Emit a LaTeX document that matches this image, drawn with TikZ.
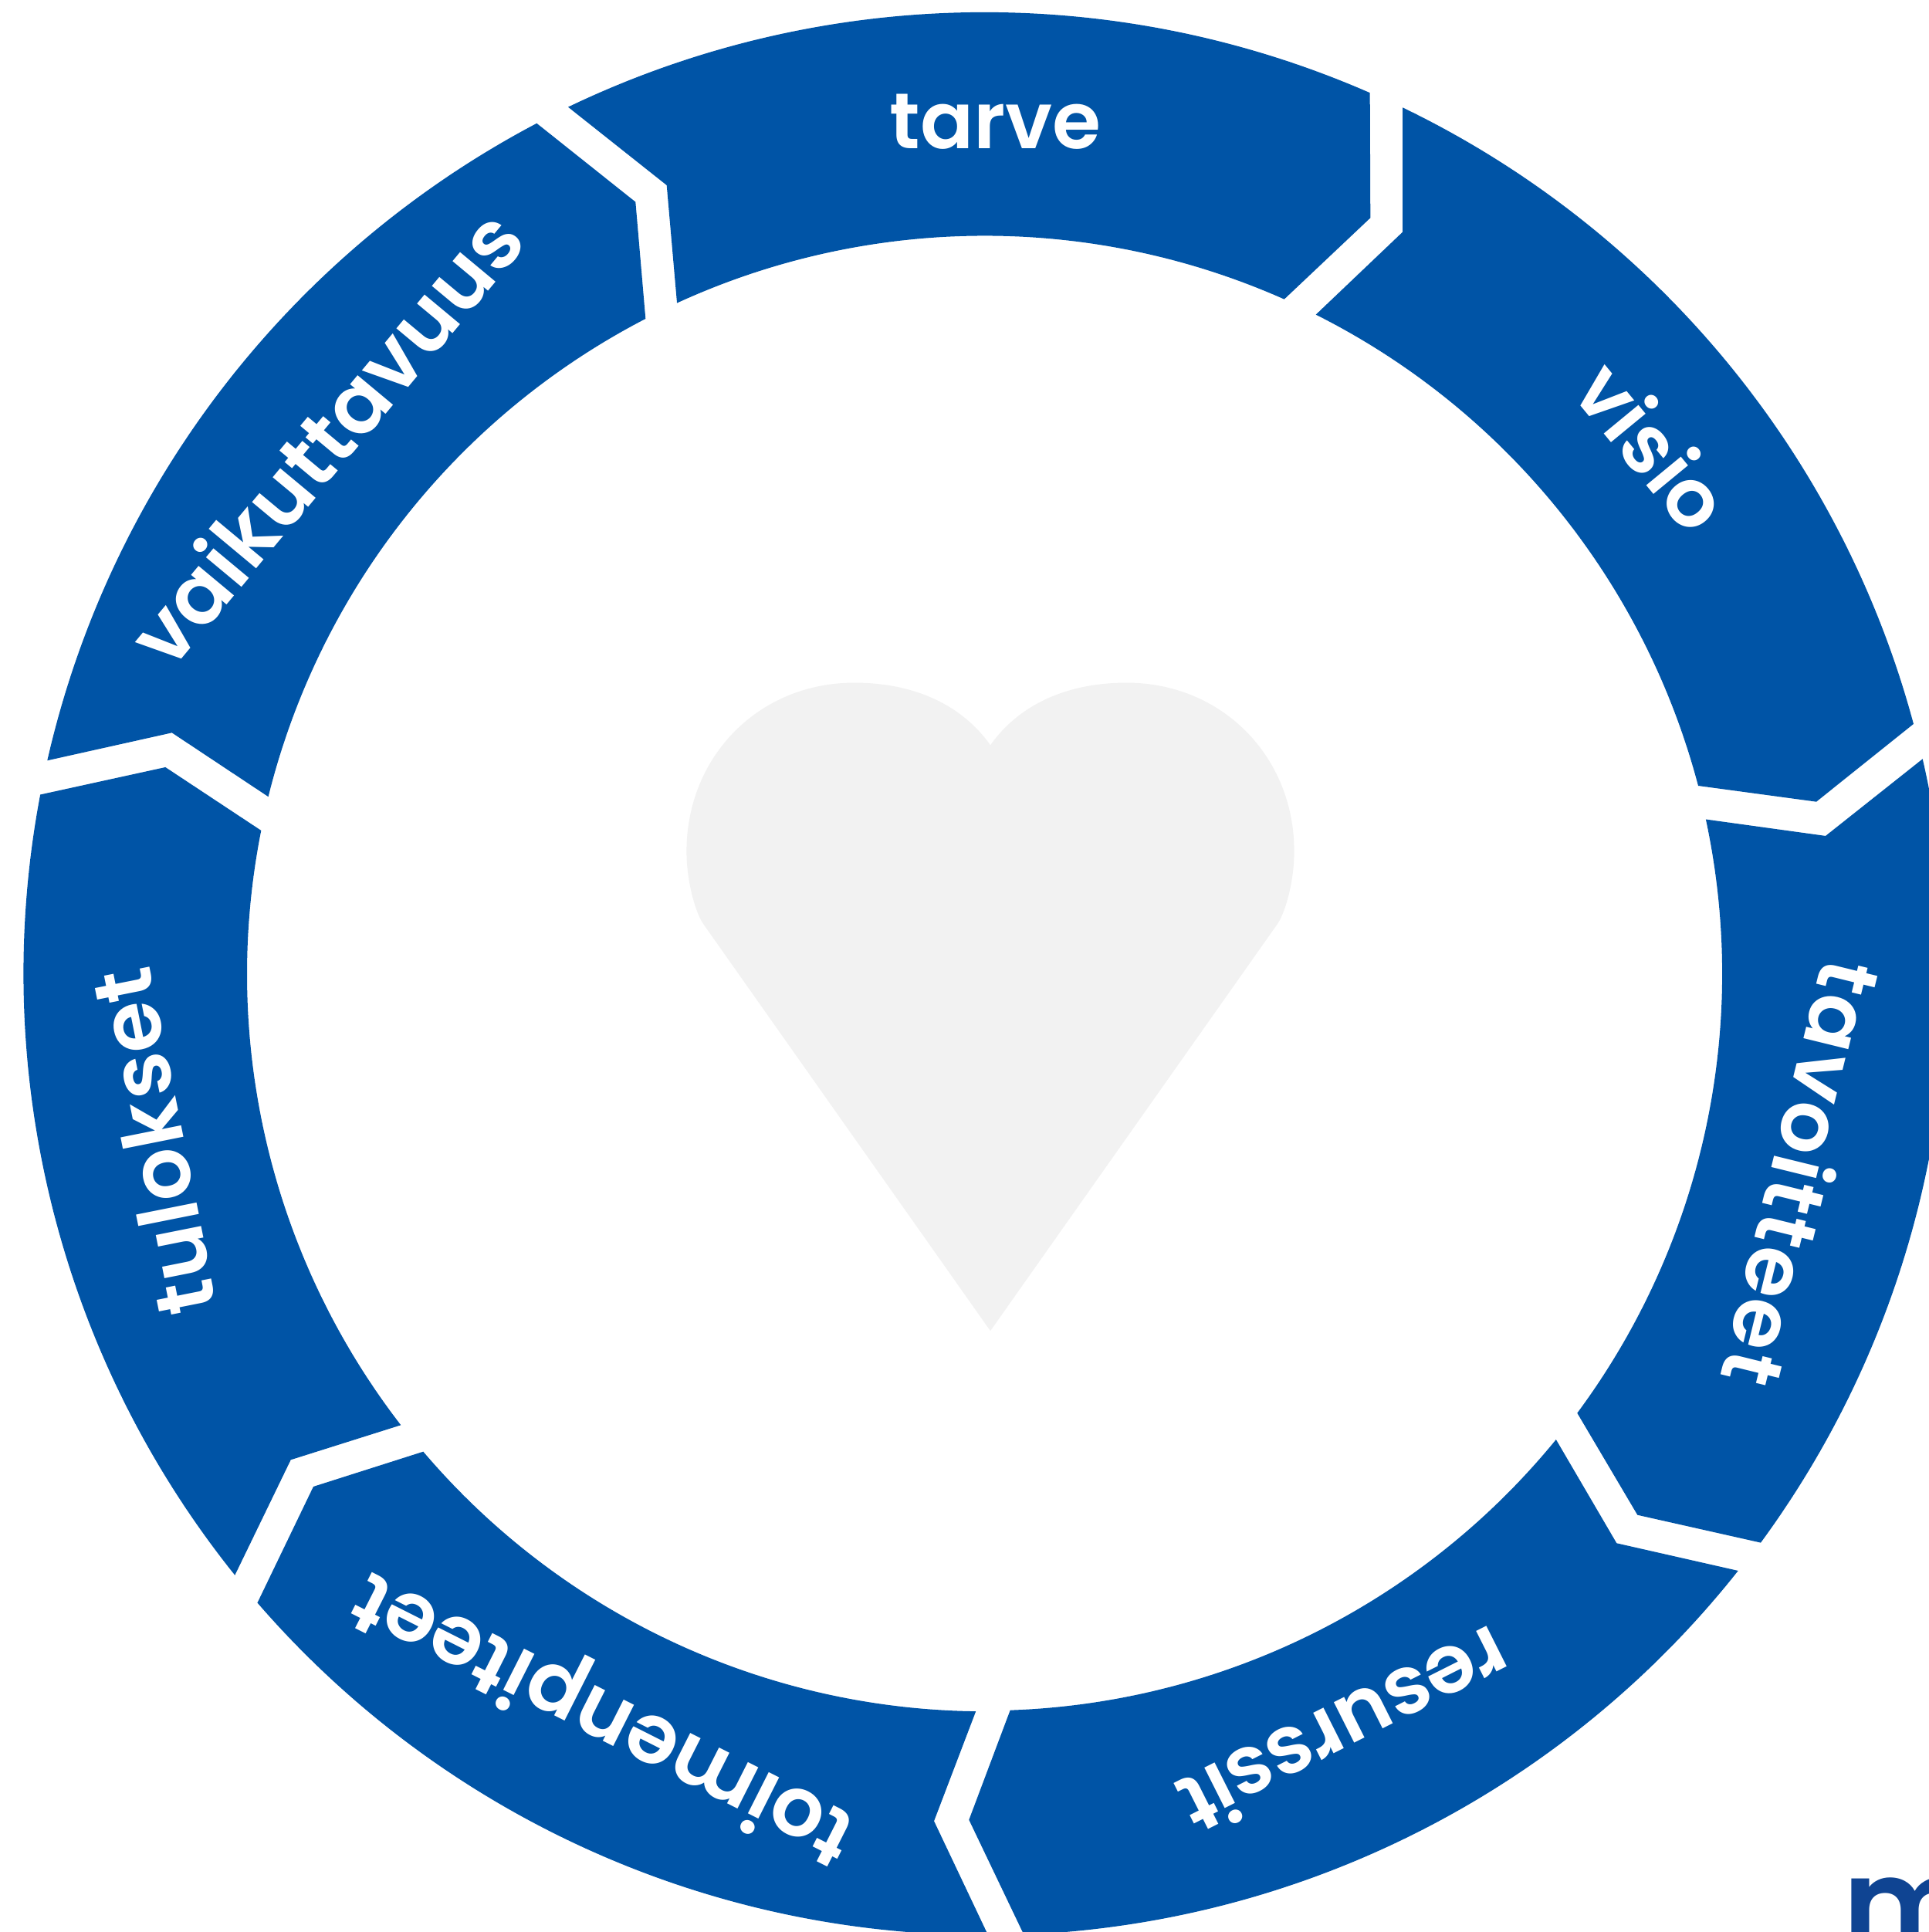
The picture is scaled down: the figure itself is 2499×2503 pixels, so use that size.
\documentclass[tikz,border=0pt]{standalone}
\usepackage{fontspec}
\usetikzlibrary{calc}
\newfontfamily\lblfont{Poppins SemiBold}
\definecolor{ringblue}{HTML}{0054A6}
\definecolor{logoblue}{HTML}{0F4492}
\definecolor{heartgray}{HTML}{F2F2F2}
\tikzset{
  ringpart/.style={fill=ringblue},
  lbl/.style 2 args={text=white,font=\lblfont\fontsize{#1}{#1}\selectfont\addfontfeature{LetterSpace=#2},anchor=base,inner sep=0pt},
}
\newcommand{\ringseg}[6]{%
  \coordinate (so) at (#1);\coordinate (sk) at (#2);\coordinate (si) at (#3);
  \coordinate (ei) at (#4);\coordinate (ek) at (#5);\coordinate (eo) at (#6);
  \path[ringpart] (so)
    let \p1=($(so)-(c)$),\p2=($(eo)-(c)$),\n1={atan2(\y1,\x1)},\n2={atan2(\y2,\x2)} in
    arc[start angle=\n1,delta angle={-Mod(\n1-\n2,360)},radius=1246pt]
    -- (ek) -- (ei)
    let \p1=($(ei)-(c)$),\p2=($(si)-(c)$),\n1={atan2(\y1,\x1)},\n2={atan2(\y2,\x2)} in
    arc[start angle=\n1,delta angle={Mod(\n2-\n1,360)},radius=956pt]
    -- (sk) -- cycle;
}
\begin{document}
\begin{tikzpicture}[x=1pt,y=1pt]
\useasboundingbox (0,0) rectangle (2499,2503);
\clip (0,0) rectangle (2499,2503);
\fill[white] (0,0) rectangle (2499,2503);
\coordinate (c) at (1275.5,2503-1262);
% heart
\begin{scope}[shift={(860.1,1644.3)},x=0.5234pt,y=-0.562pt]
\fill[heartgray] (808,1540) -- (1520,600)
  .. controls (1540,570) and (1560,500) .. (1560,435)
  .. controls (1560,215) and (1380,46) .. (1145,46)
  .. controls (1000,46) and (880,95) .. (808,190)
  .. controls (736,95) and (616,46) .. (471,46)
  .. controls (236,46) and (56,215) .. (56,435)
  .. controls (56,500) and (76,570) .. (96,600)
  -- cycle;
\end{scope}
% ring
\ringseg{736,2503-138.7}{863.7,2503-240}{876.7,2503-393}{1663.7,2503-387.7}{1775.3,2503-282.3}{1775.3,2503-119.3}
\ringseg{1817,2503-139.3}{1817,2503-300.7}{1705,2503-406.7}{2200,2503-1018}{2353,2503-1038.7}{2479,2503-938.3}
\ringseg{2490.7,2503-983.3}{2365,2503-1083}{2210.7,2503-1061.7}{2043.3,2503-1830.7}{2121.3,2503-1962.7}{2280,2503-1998.7}
\ringseg{2251.7,2503-2035}{2094.3,2503-1999.3}{2015.3,2503-1866.3}{1308.7,2503-2215.7}{1255.3,2503-2357.7}{1327,2503-2507}
\ringseg{1280,2503-2507}{1210,2503-2359.3}{1263.3,2503-2216.7}{548.3,2503-1880.7}{406,2503-1926}{334.3,2503-2076.7}
\ringseg{304.3,2503-2040.7}{376.7,2503-1891.3}{520,2503-1845.3}{338.3,2503-1076}{214.3,2503-994}{52,2503-1030.3}
\ringseg{61.3,2503-985.3}{222.7,2503-949.3}{348.3,2503-1032.3}{836.3,2503-413}{823.3,2503-261.7}{694.7,2503-159.7}
% labels
\node[lbl={102}{0}] (tarve) at (1289.5,2503-192.5) {tarve};
\node[lbl={105}{0},rotate=-50.5] (visio) at (2111.4,2503-603) {visio};
\node[lbl={108}{2.5},rotate=-103.8] (tavoitteet) at (2295.6,2503-1510.9) {tavoitteet};
\node[lbl={106}{0},rotate=-153.3] (resurssit) at (1725,2503-2207.6) {resurssit};
\node[lbl={108}{0},rotate=153.2] (toimenpiteet) at (797,2503-2196) {toimenpiteet};
\node[lbl={108}{1.5},rotate=101.3] (tulokset) at (237.5,2503-1472) {tulokset};
\node[lbl={108}{0},rotate=50.2] (vaikuttavuus) at (452.5,2503-593.2) {vaikuttavuus};
% logo letter
\node[anchor=base west,inner sep=0pt,text=logoblue,font=\lblfont\fontsize{165}{165}\selectfont] (logo) at (2387,2503-2525) {m};
\end{tikzpicture}
\end{document}
